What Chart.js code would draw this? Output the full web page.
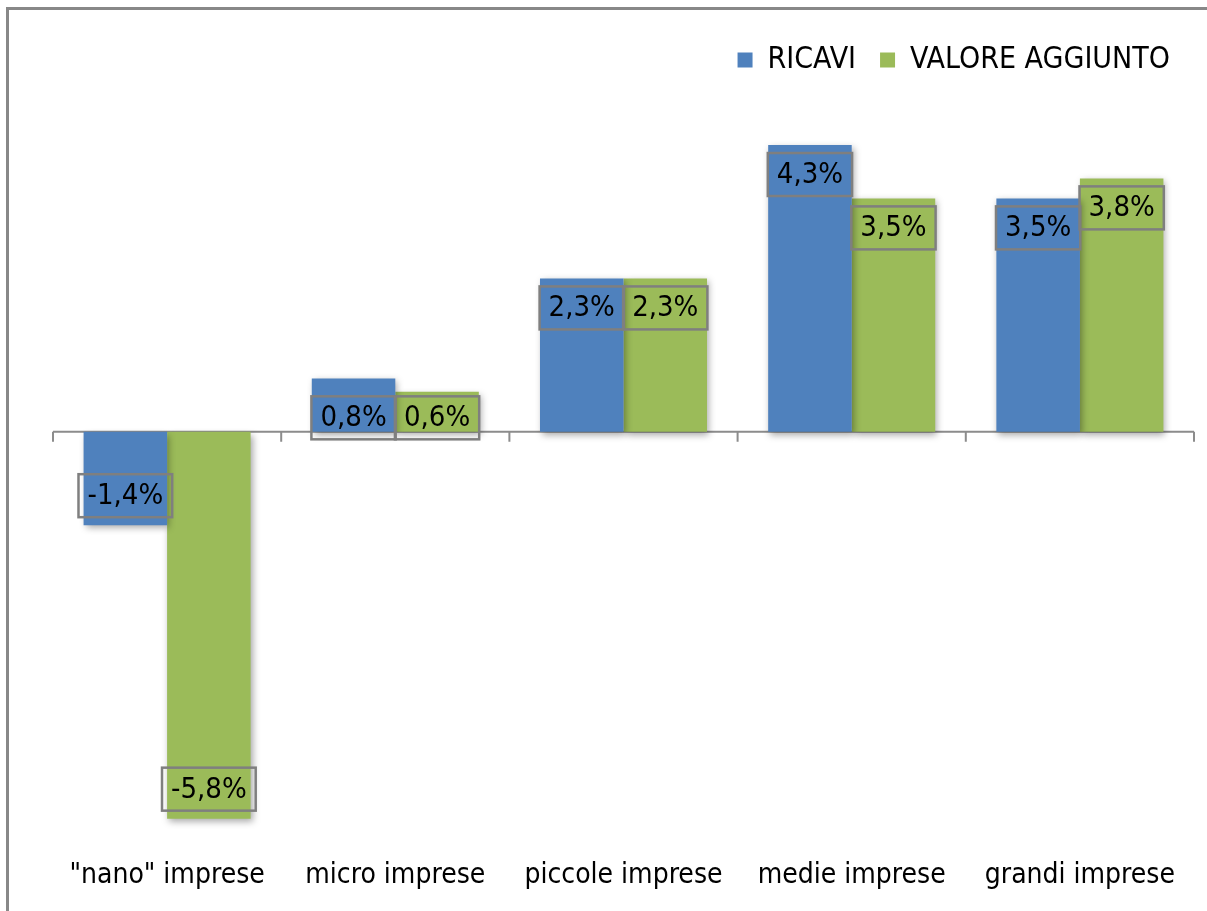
<!DOCTYPE html>
<html>
<head>
<meta charset="utf-8">
<script src="https://cdn.jsdelivr.net/npm/chart.js@4"></script>
<style>
    html, body { margin: 0; padding: 0; background: #fff; overflow: hidden; }
    #frame {
        position: absolute; left: 6px; top: 7px; width: 1400px; height: 1100px;
        border-left: 3px solid #888; border-top: 3px solid #888;
    }
    #wrap { position: absolute; left: 0; top: 0; width: 1207px; height: 911px; }
</style>
</head>
<body>
<div id="frame"></div>
<div id="wrap"><canvas id="growthChart"></canvas></div>
<script>
const categories = ['"nano" imprese', 'micro imprese', 'piccole imprese', 'medie imprese', 'grandi imprese']
const ricavi = [-1.4, 0.8, 2.3, 4.3, 3.5]
const valoreAggiunto = [-5.8, 0.6, 2.3, 3.5, 3.8]

const FONT = '"DejaVu Sans Condensed", "DejaVu Sans", sans-serif'

document.addEventListener('DOMContentLoaded', function () {

    // zero line with boundary ticks, bar shadows, boxed value labels
    const decorations = {
        id: 'decorations',
        beforeDatasetsDraw(chart) {
            const ctx = chart.ctx
            const x = chart.scales.x
            const y0 = chart.scales.y.getPixelForValue(0)
            const area = chart.chartArea
            ctx.save()
            ctx.strokeStyle = '#8c8c8c'
            ctx.lineWidth = 2
            ctx.beginPath()
            ctx.moveTo(area.left, y0)
            ctx.lineTo(area.right, y0)
            for (let i = 0; i <= categories.length; i++) {
                let px
                if (i === 0) px = area.left
                else if (i === categories.length) px = area.right
                else px = (x.getPixelForValue(i - 1) + x.getPixelForValue(i)) / 2
                ctx.moveTo(px, y0)
                ctx.lineTo(px, y0 + 10)
            }
            ctx.stroke()
            ctx.restore()

            ctx.save()
            ctx.shadowColor = 'rgba(0,0,0,0.35)'
            ctx.shadowBlur = 7
            ctx.shadowOffsetX = 2
            ctx.shadowOffsetY = 3
        },
        afterDatasetsDraw(chart) {
            const ctx = chart.ctx
            ctx.restore()
            const y0 = chart.scales.y.getPixelForValue(0)
            const boxH = 43
            const gap = 8
            ctx.save()
            ctx.font = '29px ' + FONT
            ctx.textAlign = 'center'
            ctx.textBaseline = 'middle'
            chart.data.datasets.forEach((ds, di) => {
                const meta = chart.getDatasetMeta(di)
                meta.data.forEach((bar, i) => {
                    const v = ds.data[i]
                    const text = v.toFixed(1).replace('.', ',') + '%'
                    const w = Math.max(bar.width, ctx.measureText(text).width + 18)
                    const len = Math.abs(bar.base - bar.y)
                    let top
                    if (v >= 0) {
                        top = len < boxH + 2 * gap ? y0 + 7.5 - boxH : bar.y + gap
                    } else {
                        top = bar.y - gap - boxH
                    }
                    ctx.strokeStyle = '#7f7f7f'
                    ctx.lineWidth = 2.5
                    ctx.strokeRect(bar.x - w / 2, top, w, boxH)
                    ctx.fillStyle = '#000'
                    ctx.fillText(text, bar.x, top + boxH / 2 + 1)
                })
            })
            ctx.restore()
        }
    }

    const ctx = document.getElementById('growthChart').getContext('2d')
    const growthChart = new Chart(ctx, {
        type: 'bar',
        data: {
            labels: categories,
            datasets: [{
                label: 'RICAVI',
                data: ricavi,
                backgroundColor: '#4f81bd',
                borderWidth: 0,
                categoryPercentage: 0.732,
                barPercentage: 1
            }, {
                label: 'VALORE AGGIUNTO',
                data: valoreAggiunto,
                backgroundColor: '#9bbb59',
                borderWidth: 0,
                categoryPercentage: 0.732,
                barPercentage: 1
            }]
        },
        options: {
            responsive: true,
            maintainAspectRatio: false,
            animation: false,
            layout: { padding: { left: 53, right: 13, top: 21, bottom: 0 } },
            scales: {
                x: {
                    grid: { display: false, drawTicks: false },
                    border: { display: false },
                    ticks: { color: '#000', padding: 27, font: { family: FONT, size: 28 } },
                    afterFit: (s) => { s.height = 79 }
                },
                y: {
                    display: false,
                    min: -6,
                    max: 5.2
                }
            },
            plugins: {
                tooltip: { enabled: false },
                legend: {
                    position: 'top',
                    align: 'end',
                    labels: {
                        color: '#000',
                        boxWidth: 15,
                        boxHeight: 15,
                        padding: 24,
                        font: { family: FONT, size: 30 }
                    }
                }
            }
        },
        plugins: [decorations]
    })
})
</script>
</body>
</html>
